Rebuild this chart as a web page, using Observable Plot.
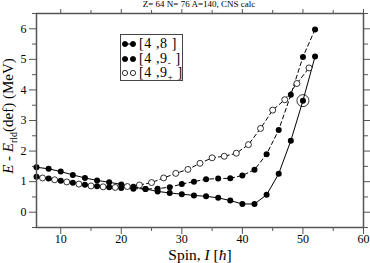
<!DOCTYPE html>
<html>
<head>
<meta charset="utf-8">
<script src="https://cdn.jsdelivr.net/npm/d3@7"></script>
<script src="https://cdn.jsdelivr.net/npm/@observablehq/plot@0.6"></script>
<style>
  body { margin: 0; background: white; }
  #wrap { position: relative; width: 370px; height: 263px; font-family: "Liberation Serif", "Times New Roman", serif; }
  #wrap svg, #wrap svg text, #wrap svg tspan { font-family: "Liberation Serif", "Times New Roman", serif !important; }
  #legend { position: absolute; left: 120px; top: 34px; width: 63px; height: 47px; border: 1px solid #444; background: white; box-sizing: border-box; }
  .row { position: absolute; left: 1px; height: 14px; display: flex; align-items: center; white-space: pre; font-size: 14px; line-height: 14px; color: #000; letter-spacing: 0.6px; }
  .row svg { display: block; margin-right: 3px; }
  .row sub { font-size: 9px; vertical-align: -3px; line-height: 0; }
</style>
</head>
<body>
<div id="wrap"></div>
<script>
// Spin values
const spinEven = [6, 8, 10, 12, 14, 16, 18, 20, 22, 24, 26, 28, 30, 32, 34, 36, 38, 40, 42, 44, 46, 48, 50, 52];
const spinOdd = [7, 9, 11, 13, 15, 17, 19, 21, 23, 25, 27, 29, 31, 33, 35, 37, 39, 41, 43, 45, 47, 49, 51];
// [4,8] (solid, filled)
const e48 = [1.47, 1.42, 1.33, 1.22, 1.12, 1.04, 0.98, 0.91, 0.83, 0.76, 0.68, 0.63, 0.59, 0.55, 0.52, 0.47, 0.38, 0.27, 0.27, 0.57, 1.26, 2.34, 3.65, 5.09];
// [4,9-] (dashed, filled)
const e49m = [1.16, 1.10, 1.03, 0.96, 0.90, 0.85, 0.82, 0.79, 0.77, 0.76, 0.77, 0.82, 0.92, 1.00, 1.08, 1.10, 1.11, 1.20, 1.39, 1.90, 2.69, 3.84, 5.08, 5.98];
// [4,9+] (dashed, open)
const e49p = [1.12, 1.06, 0.99, 0.92, 0.86, 0.83, 0.81, 0.84, 0.89, 0.97, 1.12, 1.27, 1.40, 1.60, 1.78, 1.83, 1.93, 2.21, 2.74, 3.34, 3.68, 4.21, 4.72];
// highlighted (ringed) state
const ringSpin = [50];
const ringE = [3.65];
// ticks
const xMajor = [10, 20, 30, 40, 50, 60];
const xMinor = [15, 25, 35, 45, 55];
const yMajor = [0, 1, 2, 3, 4, 5, 6];
const yMinor = [-0.5, 0.5, 1.5, 2.5, 3.5, 4.5, 5.5, 6.5];
const titleText = "Z= 64 N= 76 A=140, CNS calc";

const d48 = spinEven.map((s, i) => ({spin: s, e: e48[i]}));
const d49m = spinEven.map((s, i) => ({spin: s, e: e49m[i]}));
const d49p = spinOdd.map((s, i) => ({spin: s, e: e49p[i]}));
const dRing = ringSpin.map((s, i) => ({spin: s, e: ringE[i]}));

const axisCol = "#555";
const blank = () => "";
const intFmt = d3.format("d");
const serif = "'Liberation Serif', 'Times New Roman', serif";

const chart = Plot.plot({
  width: 370,
  height: 263,
  marginLeft: 36,
  marginRight: 7,
  marginTop: 13,
  marginBottom: 36,
  x: {domain: [6, 60]},
  y: {domain: [-0.5, 6.5]},
  style: {fontFamily: serif, fontSize: "12px", background: "white", color: "black", overflow: "visible"},
  marks: [
    Plot.axisX({ticks: xMajor, tickSize: 7, tickPadding: 0, tickFormat: intFmt, label: null, stroke: axisCol, fontSize: 12}),
    Plot.axisX({ticks: xMinor, tickSize: 4, tickFormat: blank, label: null, stroke: axisCol}),
    Plot.axisX({anchor: "top", ticks: xMajor, tickSize: 5, tickFormat: blank, label: null, stroke: axisCol}),
    Plot.axisX({anchor: "top", ticks: xMinor, tickSize: 4, tickFormat: blank, label: null, stroke: axisCol}),
    Plot.axisY({ticks: yMajor, tickSize: 7, tickPadding: 3, tickFormat: intFmt, label: null, stroke: axisCol, fontSize: 12}),
    Plot.axisY({ticks: yMinor, tickSize: 4, tickFormat: blank, label: null, stroke: axisCol}),
    Plot.axisY({anchor: "right", ticks: yMajor, tickSize: 7, tickFormat: blank, label: null, stroke: axisCol}),
    Plot.axisY({anchor: "right", ticks: yMinor, tickSize: 4, tickFormat: blank, label: null, stroke: axisCol}),
    Plot.line(d48, {x: "spin", y: "e", stroke: "black", strokeWidth: 1}),
    Plot.line(d49m, {x: "spin", y: "e", stroke: "black", strokeWidth: 1, strokeDasharray: "4,3"}),
    Plot.line(d49p, {x: "spin", y: "e", stroke: "black", strokeWidth: 1, strokeDasharray: "4,3"}),
    Plot.dot(d49p, {x: "spin", y: "e", r: 3, fill: "white", stroke: "black", strokeWidth: 0.8}),
    Plot.dot(d49m, {x: "spin", y: "e", r: 3, fill: "black"}),
    Plot.dot(d48, {x: "spin", y: "e", r: 3, fill: "black"}),
    Plot.dot(dRing, {x: "spin", y: "e", r: 6, fill: "none", stroke: "black", strokeWidth: 0.8}),
    Plot.frame({stroke: axisCol, strokeWidth: 1.5})
  ]
});

document.getElementById("wrap").appendChild(chart);
const svg = d3.select(chart);
svg.attr("font-family", serif);

// title
svg.append("text")
  .attr("x", 199).attr("y", 7)
  .attr("text-anchor", "middle")
  .attr("font-size", 9)
  .attr("fill", "black")
  .text(titleText);

// x label
const xl = svg.append("text")
  .attr("x", 200).attr("y", 260)
  .attr("text-anchor", "middle")
  .attr("font-size", 15.5)
  .attr("fill", "black");
xl.append("tspan").text("Spin, ");
xl.append("tspan").attr("font-style", "italic").text("I");
xl.append("tspan").text(" [");
xl.append("tspan").attr("font-style", "italic").text("ħ");
xl.append("tspan").text("]");

// y label
const yl = svg.append("text")
  .attr("transform", "translate(13,116) rotate(-90)")
  .attr("text-anchor", "middle")
  .attr("font-size", 15)
  .attr("fill", "black");
yl.append("tspan").attr("font-style", "italic").text("E");
yl.append("tspan").text(" - ");
yl.append("tspan").attr("font-style", "italic").text("E");
yl.append("tspan").attr("font-size", 10).attr("dy", 4).text("rld");
yl.append("tspan").attr("dy", -4).text("(def) (MeV)");

svg.selectAll("text").style("font-family", serif);

// legend
const legend = document.createElement("div");
legend.id = "legend";
const entries = [
  {label: "[4 ,8 ]", sub: "", fill: "black", dash: null},
  {label: "[4 ,9", sub: "-", fill: "black", dash: "3,2"},
  {label: "[4 ,9", sub: "+", fill: "white", dash: "3,2"}
];
entries.forEach((en, i) => {
  const row = document.createElement("div");
  row.className = "row";
  row.style.top = (2 + i * 14.5) + "px";
  const sw = d3.create("svg").attr("width", 14).attr("height", 10);
  sw.append("line").attr("x1", 3).attr("x2", 11).attr("y1", 5).attr("y2", 5)
    .attr("stroke", "black").attr("stroke-width", 1).attr("stroke-dasharray", en.dash);
  [3, 11].forEach(cx => sw.append("circle").attr("cx", cx).attr("cy", 5).attr("r", 2.6)
    .attr("fill", en.fill).attr("stroke", "black").attr("stroke-width", 0.8));
  row.appendChild(sw.node());
  const t = document.createElement("span");
  if (en.sub) {
    t.innerHTML = en.label + "<sub>" + en.sub + "</sub> ]";
  } else {
    t.textContent = en.label;
  }
  row.appendChild(t);
  legend.appendChild(row);
});
document.getElementById("wrap").appendChild(legend);
</script>
</body>
</html>
